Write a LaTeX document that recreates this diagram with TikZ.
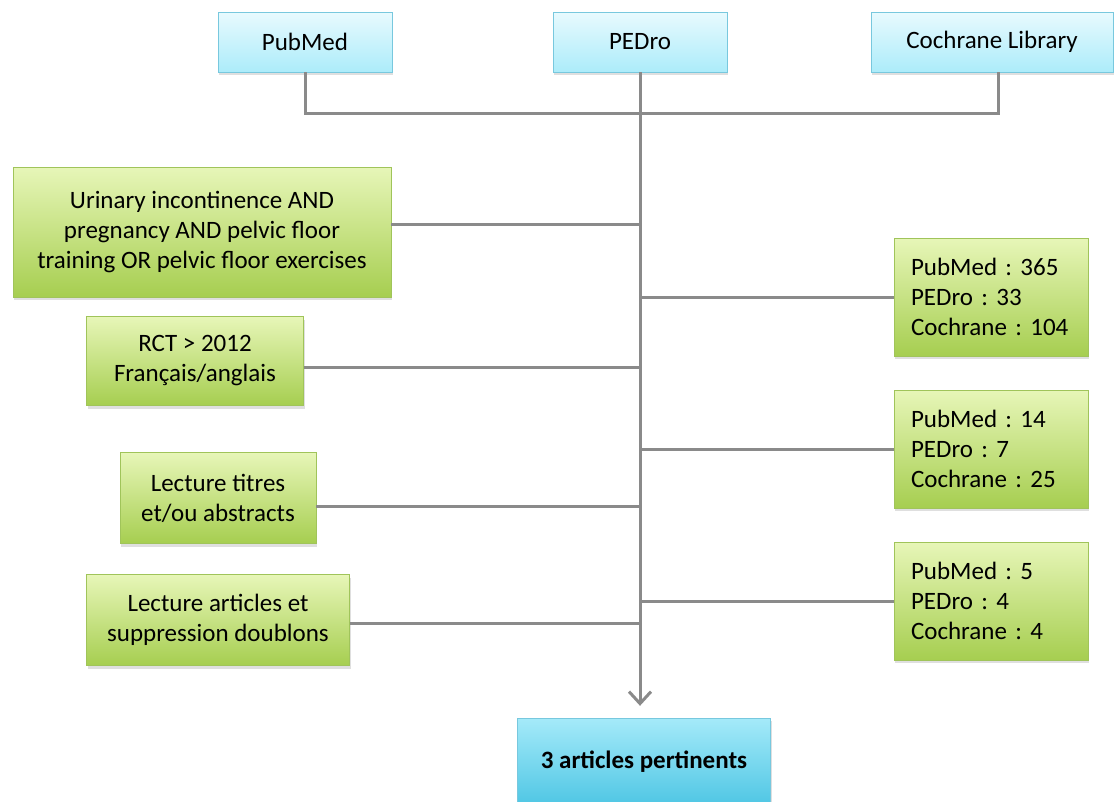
\documentclass[tikz,border=0pt]{standalone}
\usepackage{fontspec}
\setmainfont{Carlito}
\usetikzlibrary{arrows.meta,positioning,shadows}
\definecolor{bluetop}{RGB}{232,250,254}
\definecolor{bluebot}{RGB}{172,236,250}
\definecolor{blueline}{RGB}{120,200,222}
\definecolor{greentop}{RGB}{231,246,184}
\definecolor{greenbot}{RGB}{166,206,80}
\definecolor{greenline}{RGB}{160,196,90}
\definecolor{finaltop}{RGB}{165,234,249}
\definecolor{finalbot}{RGB}{78,198,228}
\definecolor{conn}{RGB}{138,138,138}
\frenchspacing
\tikzstyle{base} = [rectangle, align=center, font=\fontsize{25}{30}\selectfont, drop shadow={opacity=0.25, shadow xshift=1pt, shadow yshift=-3pt}]
\tikzstyle{source} = [base, minimum height=60pt, top color=bluetop, bottom color=bluebot, draw=blueline]
\tikzstyle{stepbox} = [base, top color=greentop, bottom color=greenbot, draw=greenline]
\tikzstyle{count} = [base, align=left, text width=160pt, minimum width=194pt, minimum height=118pt, top color=greentop, bottom color=greenbot, draw=greenline]
\tikzstyle{result} = [base, font=\fontsize{25}{30}\selectfont\bfseries, minimum width=253pt, minimum height=88pt, top color=finaltop, bottom color=finalbot, draw=blueline]
\tikzstyle{line} = [draw=conn, line width=3pt]
\begin{document}
\begin{tikzpicture}[x=1pt, y=-1pt]
    \useasboundingbox (0,0) rectangle (1115,801);

    \node(pubmed)[source, minimum width=174pt] at (305,42) {PubMed};
    \node(pedro)[source, minimum width=174pt] at (640,42) {PEDro};
    \node(cochrane)[source, minimum width=242pt] at (992,42) {Cochrane Library};
    \coordinate(bus) at (641,113);

    \node(query)[stepbox, minimum width=378pt, minimum height=130pt] at (202,232) {Urinary incontinence AND\\pregnancy AND pelvic floor\\training OR pelvic floor exercises};
    \node(rct)[stepbox, minimum width=217pt, minimum height=89pt] at (195,361) {RCT > 2012\\Français/anglais};
    \node(titres)[stepbox, minimum width=196pt, minimum height=91pt] at (218,498) {Lecture titres\\et/ou abstracts};
    \node(articles)[stepbox, minimum width=263pt, minimum height=91pt] at (218,620) {Lecture articles et\\suppression doublons};

    \node(n1)[count] at (991,297) {PubMed : 365\\PEDro : 33\\Cochrane : 104};
    \node(n2)[count] at (991,449) {PubMed : 14\\PEDro : 7\\Cochrane : 25};
    \node(n3)[count] at (991,601) {PubMed : 5\\PEDro : 4\\Cochrane : 4};

    \node(final)[result] at (644,762) {3 articles pertinents};

    \draw[line] (pubmed.south) |- (bus) -| ([xshift=6pt]cochrane.south);
    \draw[line, -{Straight Barb[length=12pt, width=22pt]}, shorten >=12pt] (pedro.south) -- (pedro.south |- final.north);

    \draw[line] ([yshift=8pt]query.east) -- ([yshift=8pt]query.east -| bus);
    \draw[line] ([yshift=-6pt]rct.east) -- ([yshift=-6pt]rct.east -| bus);
    \draw[line] ([yshift=-8pt]titres.east) -- ([yshift=-8pt]titres.east -| bus);
    \draw[line] ([yshift=-3pt]articles.east) -- ([yshift=-3pt]articles.east -| bus);

    \draw[line] (n1.west) -- (n1.west -| bus);
    \draw[line] (n2.west) -- (n2.west -| bus);
    \draw[line] (n3.west) -- (n3.west -| bus);
\end{tikzpicture}
\end{document}
